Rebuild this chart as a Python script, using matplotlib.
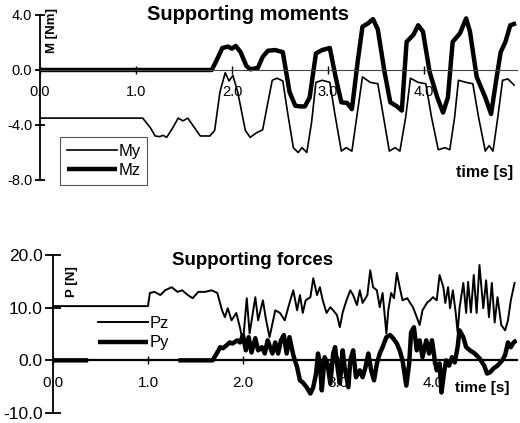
import numpy as np
import matplotlib
matplotlib.use('Agg')
import matplotlib.pyplot as plt

plt.rcParams['font.family'] = ['Liberation Sans', 'DejaVu Sans']

# Supporting moments (time [s], M [Nm])
t_my = [0, 1.07, 1.15, 1.20, 1.25, 1.28, 1.32, 1.375, 1.44, 1.49,
        1.54, 1.61, 1.67, 1.77, 1.82, 1.875, 1.93, 1.97, 2.01, 2.06,
        2.14, 2.19, 2.26, 2.32, 2.375, 2.42, 2.47, 2.53, 2.58, 2.64,
        2.69, 2.73, 2.78, 2.83, 2.875, 2.94, 3.02, 3.07, 3.14, 3.19,
        3.25, 3.30, 3.36, 3.44, 3.52, 3.58, 3.64, 3.70, 3.75, 3.81,
        3.86, 3.94, 4.02, 4.08, 4.15, 4.22, 4.27, 4.32, 4.36, 4.44,
        4.51, 4.57, 4.64, 4.68, 4.72, 4.77, 4.82, 4.875, 4.94]
my = [-3.5, -3.5, -4.2, -4.8, -4.85, -4.75, -4.9, -4.3, -3.5, -3.7,
      -3.5, -4.2, -4.8, -4.8, -4.4, -1.6, -0.2, -0.8, -0.4, -1.6,
      -4.4, -4.9, -4.55, -4.35, -2.35, -0.75, -0.6, -0.8, -3.1, -5.65,
      -6.0, -5.65, -6.0, -3.8, -0.9, -0.75, -0.9, -3.1, -5.9, -5.65,
      -5.9, -3.45, -0.5, -0.9, -1.0, -3.45, -5.9, -5.65, -5.9, -3.45,
      -0.6, -0.9, -1.0, -3.45, -5.8, -5.65, -5.8, -3.45, -0.75, -0.9,
      -1.0, -3.45, -5.9, -5.5, -5.9, -3.45, -0.75, -0.65, -1.1]

t_mz = [0, 1.79, 1.84, 1.90, 1.96, 2.0, 2.04, 2.09, 2.15, 2.19,
        2.27, 2.32, 2.375, 2.45, 2.53, 2.60, 2.66, 2.71, 2.76, 2.81,
        2.875, 2.94, 3.02, 3.08, 3.14, 3.20, 3.25, 3.31, 3.36, 3.42,
        3.47, 3.52, 3.59, 3.65, 3.72, 3.77, 3.82, 3.89, 3.94, 3.99,
        4.06, 4.14, 4.20, 4.25, 4.30, 4.375, 4.44, 4.48, 4.55, 4.64,
        4.70, 4.75, 4.80, 4.85, 4.90, 4.96]
mz = [0, 0, 0.7, 1.6, 1.7, 1.55, 1.75, 1.3, 0.3, 0.05,
      0.15, 0.95, 1.4, 1.45, 1.3, -1.6, -2.6, -2.65, -2.65, -2.0,
      1.2, 1.45, 1.6, -0.5, -2.35, -2.4, -2.85, 0.6, 3.15, 3.4,
      3.7, 2.95, -0.15, -2.35, -2.65, -2.95, 2.05, 2.55, 3.25, 2.8,
      -0.15, -2.0, -3.1, -2.0, 2.05, 2.65, 3.75, 2.8, -0.5, -2.0,
      -3.2, -0.9, 1.3, 2.05, 3.25, 3.4]

# Supporting forces (time [s], P [N])
t_pz = [0, 1.0, 1.02, 1.07, 1.13, 1.18, 1.25, 1.31, 1.36, 1.42,
        1.47, 1.53, 1.60, 1.67, 1.73, 1.78, 1.81, 1.84, 1.88, 1.93,
        1.97, 2.0, 2.04, 2.07, 2.13, 2.16, 2.21, 2.24, 2.28, 2.34,
        2.39, 2.44, 2.49, 2.53, 2.57, 2.60, 2.63, 2.66, 2.71, 2.74,
        2.78, 2.81, 2.84, 2.88, 2.92, 2.95, 2.99, 3.02, 3.05, 3.09,
        3.13, 3.16, 3.20, 3.23, 3.26, 3.31, 3.34, 3.37, 3.41, 3.44,
        3.47, 3.51, 3.53, 3.56, 3.59, 3.62, 3.65, 3.68, 3.73, 3.76,
        3.79, 3.83, 3.86, 3.89, 3.94, 3.97, 4.0, 4.04, 4.07, 4.11,
        4.13, 4.16, 4.18, 4.21, 4.24, 4.26, 4.28, 4.32, 4.35, 4.37,
        4.40, 4.43, 4.46, 4.49, 4.53, 4.56, 4.59, 4.62, 4.65, 4.68,
        4.72, 4.76, 4.79, 4.82, 4.86]
pz = [10.3, 10.3, 12.8, 13.0, 12.4, 13.3, 13.9, 13.0, 13.3, 12.4,
      11.8, 13.0, 13.0, 13.3, 12.8, 9.5, 8.2, 9.9, 7.6, 9.0,
      6.1, 3.4, 11.8, 5.1, 12.0, 7.6, 11.4, 8.0, 4.4, 9.5,
      9.0, 7.6, 10.9, 13.3, 9.5, 12.4, 9.0, 11.4, 12.0, 15.6,
      12.4, 13.9, 11.4, 9.0, 10.1, 9.5, 8.6, 6.3, 9.1, 11.4,
      13.3, 12.4, 10.5, 13.3, 10.9, 12.4, 17.1, 13.9, 13.3, 10.1,
      12.8, 5.1, 9.5, 12.8, 11.8, 16.6, 13.9, 11.4, 11.8, 10.9,
      10.1, 8.2, 6.7, 9.5, 11.0, 11.4, 12.0, 11.4, 16.2, 13.9,
      10.9, 13.9, 9.9, 13.3, 9.0, 5.3, 9.9, 14.7, 9.0, 14.9,
      9.1, 16.2, 9.0, 18.1, 9.9, 15.2, 8.2, 14.7, 7.2, 12.0,
      6.7, 5.7, 7.6, 11.4, 14.7]

t_py = [0, 0.37, 0.38, 1.32,
        1.68, 1.73, 1.76, 1.79, 1.83, 1.86, 1.89, 1.94, 1.97, 2.0,
        2.03, 2.06, 2.09, 2.13, 2.16, 2.20, 2.23, 2.26, 2.31, 2.34,
        2.37, 2.40, 2.43, 2.46, 2.49, 2.53, 2.57, 2.60, 2.63, 2.67,
        2.71, 2.74, 2.77, 2.79, 2.81, 2.83, 2.86, 2.89, 2.92, 2.95,
        2.97, 3.0, 3.02, 3.05, 3.07, 3.11, 3.13, 3.16, 3.19, 3.23,
        3.26, 3.29, 3.32, 3.35, 3.38, 3.41, 3.44, 3.47, 3.51, 3.55,
        3.58, 3.62, 3.65, 3.68, 3.72, 3.75, 3.77, 3.80, 3.83, 3.86,
        3.89, 3.93, 3.96, 3.99, 4.02, 4.04, 4.07, 4.09, 4.12, 4.14,
        4.17, 4.20, 4.23, 4.26, 4.28, 4.32, 4.35, 4.39, 4.44, 4.49,
        4.54, 4.57, 4.60, 4.64, 4.68, 4.73, 4.76, 4.79, 4.82, 4.85,
        4.88]
py = [0, 0, np.nan, 0,
      0, 1.5, 2.5, 2.3, 2.9, 3.4, 3.2, 3.8, 3.4, 4.8,
      1.9, 4.4, 1.5, 4.2, 1.9, 2.5, 1.3, 3.8, 1.3, 3.4,
      1.3, 3.8, 4.8, 1.3, 4.4, 1.0, -1.3, -3.8, -4.2, -5.1,
      -6.3, -5.1, -2.5, 1.3, -0.6, -5.7, 0.6, -0.6, -4.4, 1.3,
      2.5, -1.9, -4.4, 1.9, -1.3, -5.1, 0, 1.9, -3.2, -1.9,
      -3.2, -1.3, 1.3, -1.9, -3.8, -0.6, 1.3, 2.5, 4.4, 4.8,
      4.2, 3.2, 1.9, 0, -4.8, -0.6, 5.3, 6.3, 1.9, 3.8,
      0.6, 3.8, 1.3, 3.8, 0, -1.9, -0.6, -6.1, -1.9, 0,
      -1.0, 0.6, -0.4, 2.5, 5.7, 4.4, 2.5, 1.9, 1.3, 0.4,
      -1.0, -2.5, -2.3, -1.5, -1.0, 0, 1.0, 3.4, 2.5, 3.4,
      3.8]

x_ticks = [0, 1, 2, 3, 4]
m_ticks = [-8, -4, 0, 4]
p_ticks = [-10, 0, 10, 20]

fig = plt.figure(figsize=(5.2, 4.23), dpi=100)
ax1 = fig.add_axes([0.0769, 0.5745, 0.9173, 0.3901])
ax2 = fig.add_axes([0.1019, 0.0236, 0.8923, 0.3735])


def style_axis(ax, yticks, xsize, ysize, ytick_len, spine_lw):
    for s in ['top', 'right']:
        ax.spines[s].set_visible(False)
    ax.spines['bottom'].set_position(('data', 0))
    ax.spines['bottom'].set_linewidth(spine_lw)
    ax.spines['left'].set_linewidth(1.3)
    ax.set_xticks(x_ticks)
    ax.set_xticklabels(['%.1f' % v for v in x_ticks])
    ax.set_yticks(yticks)
    ax.set_yticklabels(['%.1f' % v for v in yticks])
    ax.tick_params(axis='x', direction='inout', length=6, width=1,
                   labelsize=xsize, pad=8)
    ax.tick_params(axis='y', direction='inout', length=ytick_len, width=1.3,
                   labelsize=ysize, pad=2)


# ---- Supporting moments ----
l_my, = ax1.plot(t_my, my, color='black', lw=1.2, label='My')
l_mz, = ax1.plot(t_mz, mz, color='black', lw=3.2, label='Mz',
                 solid_capstyle='butt')
ax1.set_xlim(0, 4.97)
ax1.set_ylim(-8, 4)
style_axis(ax1, m_ticks, 10.5, 10.5, 7, 0.8)
ax1.spines['bottom'].set_color('#444444')
ax1.text(0.436, 1.0, 'Supporting moments', transform=ax1.transAxes,
         ha='center', va='center', fontsize=14.5, fontweight='bold')
ax1.text(0.025, 0.903, 'M [Nm]', transform=ax1.transAxes, rotation=90,
         ha='center', va='center', fontsize=9.5, fontweight='bold')
ax1.text(0.933, 0.048, 'time [s]', transform=ax1.transAxes,
         ha='center', va='center', fontsize=11.5, fontweight='bold')
leg1 = ax1.legend(handles=[l_my, l_mz], loc='upper left',
                  bbox_to_anchor=(0.042, 0.26), borderaxespad=0,
                  fontsize=12, handlelength=3.0, handletextpad=0.1,
                  labelspacing=0.25, fancybox=False, framealpha=1,
                  edgecolor='#555555', borderpad=0.4)
leg1.get_frame().set_linewidth(0.8)

# ---- Supporting forces ----
l_pz, = ax2.plot(t_pz, pz, color='black', lw=1.4, label='Pz')
l_py, = ax2.plot(t_py, py, color='black', lw=3.2, label='Py',
                 solid_capstyle='butt')
ax2.set_xlim(0, 4.885)
ax2.set_ylim(-10, 20)
style_axis(ax2, p_ticks, 11, 12.5, 11, 1.6)
ax2.text(0.431, 0.968, 'Supporting forces', transform=ax2.transAxes,
         ha='center', va='center', fontsize=13.5, fontweight='bold')
ax2.text(0.041, 0.829, 'P [N]', transform=ax2.transAxes, rotation=90,
         ha='center', va='center', fontsize=9.5, fontweight='bold')
ax2.text(0.925, 0.158, 'time [s]', transform=ax2.transAxes,
         ha='center', va='center', fontsize=11, fontweight='bold')
ax2.legend(handles=[l_pz, l_py], loc='upper left',
           bbox_to_anchor=(0.082, 0.655), borderaxespad=0,
           fontsize=12, handlelength=3.0, handletextpad=0.1,
           labelspacing=0.25, frameon=False, borderpad=0.4)

fig.savefig('out.png', dpi=100, facecolor='white')
